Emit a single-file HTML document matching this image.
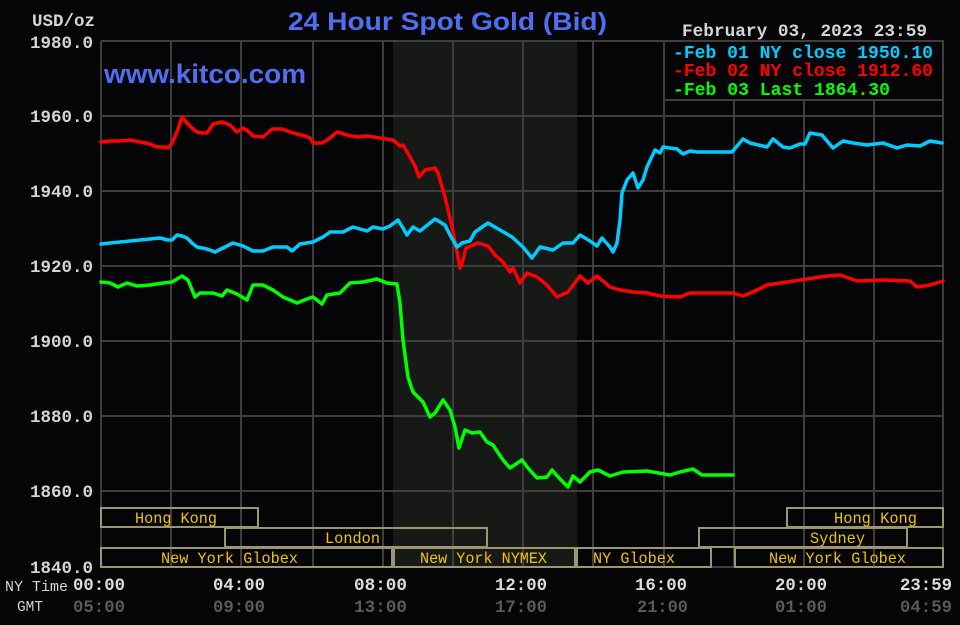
<!DOCTYPE html>
<html><head><meta charset="utf-8"><style>
html,body{margin:0;padding:0;background:#050508;}
svg{display:block;}
.m{font-family:"Liberation Mono",monospace;font-weight:bold;}
.r{font-family:"Liberation Mono",monospace;}
.s{font-family:"Liberation Sans",sans-serif;font-weight:bold;}
</style></head><body>
<svg width="960" height="625" viewBox="0 0 960 625" xmlns="http://www.w3.org/2000/svg">
<rect x="0" y="0" width="960" height="625" fill="#050508"/>
<rect x="393" y="41" width="184" height="526" fill="#171917"/>
<g stroke="#3e3e3e" stroke-width="2" fill="none">
<line x1="101" y1="41" x2="943" y2="41"/>
<line x1="101" y1="116" x2="943" y2="116"/>
<line x1="101" y1="191" x2="943" y2="191"/>
<line x1="101" y1="266" x2="943" y2="266"/>
<line x1="101" y1="341" x2="943" y2="341"/>
<line x1="101" y1="416" x2="943" y2="416"/>
<line x1="101" y1="491" x2="943" y2="491"/>
<line x1="101" y1="567" x2="943" y2="567"/>
<line x1="101" y1="41" x2="101" y2="567"/>
<line x1="171" y1="41" x2="171" y2="567"/>
<line x1="241" y1="41" x2="241" y2="567"/>
<line x1="313" y1="41" x2="313" y2="567"/>
<line x1="383" y1="41" x2="383" y2="567"/>
<line x1="453" y1="41" x2="453" y2="567"/>
<line x1="523" y1="41" x2="523" y2="567"/>
<line x1="593" y1="41" x2="593" y2="567"/>
<line x1="664" y1="41" x2="664" y2="567"/>
<line x1="734" y1="41" x2="734" y2="567"/>
<line x1="804" y1="41" x2="804" y2="567"/>
<line x1="874" y1="41" x2="874" y2="567"/>
<line x1="943" y1="41" x2="943" y2="567"/>
</g>
<g stroke="#9c9670" stroke-width="2" fill="none">
<rect x="101" y="508" width="157" height="19"/>
<rect x="787" y="508" width="156" height="19"/>
<rect x="225" y="528" width="262" height="19"/>
<rect x="699" y="528" width="208" height="19"/>
<rect x="101" y="548" width="291" height="19"/>
<rect x="394" y="548" width="181" height="19"/>
<rect x="577" y="548" width="134" height="19"/>
<rect x="735" y="548" width="208" height="19"/>
</g>
<g class="r" fill="#f0c400" font-size="16">
<text x="135" y="523" textLength="82" lengthAdjust="spacingAndGlyphs">Hong Kong</text>
<text x="834" y="523" textLength="83" lengthAdjust="spacingAndGlyphs">Hong Kong</text>
<text x="325" y="543" textLength="55" lengthAdjust="spacingAndGlyphs">London</text>
<text x="810" y="543" textLength="55" lengthAdjust="spacingAndGlyphs">Sydney</text>
<text x="161" y="563" textLength="137" lengthAdjust="spacingAndGlyphs">New York Globex</text>
<text x="420" y="563" textLength="127" lengthAdjust="spacingAndGlyphs">New York NYMEX</text>
<text x="593" y="563" textLength="82" lengthAdjust="spacingAndGlyphs">NY Globex</text>
<text x="769" y="563" textLength="137" lengthAdjust="spacingAndGlyphs">New York Globex</text>
</g>
<g fill="none" stroke-width="3.5" stroke-linejoin="round" stroke-linecap="round">
<polyline stroke="#ff0000" points="101,142 110,141 120,141 130,140 140,142 150,144 157,147 165,147 168,148 172,143 177,132 182,117 187,123 192,128 197,132 202,133 207,133 213,124 222,122 230,125 237,132 243,128 248,131 253,136 263,137 272,129 282,129 293,133 305,136 310,138 313,143 322,143 330,138 337,132 347,135 357,137 367,136 380,138 393,140 400,146 403,145 410,157 415,166 419,177 425,170 435,168 438,173 445,197 452,227 457,252 460,268 463,260 466,248 478,243 488,246 495,255 503,262 510,272 513,268 520,283 527,273 537,277 547,285 557,297 568,292 580,276 588,283 597,276 610,287 620,290 633,292 647,293 660,296 680,297 690,293 733,293 743,296 755,291 767,285 787,282 807,279 827,276 840,275 857,281 883,280 910,281 917,287 930,285 943,281"/>
<polyline stroke="#00ccff" points="101,244 110,243 120,242 130,241 140,240 150,239 160,238 168,240 172,240 177,235 182,236 187,238 192,243 197,247 207,249 215,252 223,248 233,243 243,246 253,251 263,251 273,247 287,247 292,251 300,244 313,242 323,237 330,232 343,232 353,227 367,231 373,227 383,229 390,226 398,220 403,228 407,235 413,227 420,231 435,219 445,225 450,235 457,247 462,243 470,241 475,232 488,223 500,230 512,237 523,247 532,258 540,247 553,250 563,243 573,243 580,235 590,241 597,246 602,238 610,247 613,252 617,243 620,220 622,193 627,180 633,173 638,188 643,180 647,167 655,150 660,153 663,147 677,149 683,154 690,151 697,152 732,152 743,139 750,143 767,147 773,139 783,147 790,148 800,144 805,144 810,133 822,135 833,148 843,141 853,143 867,145 883,143 897,148 907,145 920,146 930,141 942,143"/>
<polyline stroke="#00ff00" points="101,282 110,283 118,287 127,283 137,286 150,285 163,283 172,282 182,276 188,280 195,297 200,293 213,293 222,296 227,290 237,294 247,300 253,285 263,285 273,290 283,297 297,303 307,299 313,297 322,304 327,295 340,293 350,283 363,282 377,279 387,283 397,284 400,303 403,340 408,377 413,392 423,402 430,417 435,413 443,400 450,410 455,427 459,448 465,430 472,433 480,432 487,442 493,445 503,460 510,468 522,460 528,468 537,478 547,477 552,470 560,479 568,487 573,476 580,482 590,472 598,470 610,476 623,472 647,471 670,475 680,472 693,469 702,475 733,475"/>
</g>
<rect x="664" y="41" width="279" height="59" fill="#050508" stroke="#3e3e3e" stroke-width="2"/>
<g class="m" font-size="18">
<text x="673" y="58" fill="#00ccff" textLength="260" lengthAdjust="spacingAndGlyphs">-Feb 01 NY close 1950.10</text>
<text x="673" y="76" fill="#ff0000" textLength="260" lengthAdjust="spacingAndGlyphs">-Feb 02 NY close 1912.60</text>
<text x="673" y="95" fill="#00ff00" textLength="217" lengthAdjust="spacingAndGlyphs">-Feb 03 Last 1864.30</text>
</g>
<text class="s" x="288" y="30" font-size="25" fill="#4f6ff0" textLength="319" lengthAdjust="spacingAndGlyphs">24 Hour Spot Gold (Bid)</text>
<text class="s" x="104" y="83" font-size="27" fill="#4f6ff0" textLength="202" lengthAdjust="spacingAndGlyphs">www.kitco.com</text>
<text class="m" x="682" y="36" font-size="17.5" fill="#d4d4d4" textLength="245" lengthAdjust="spacingAndGlyphs">February 03, 2023 23:59</text>
<g class="m" font-size="17.5" fill="#d4d4d4">
<text x="32" y="26" textLength="63" lengthAdjust="spacingAndGlyphs">USD/oz</text>
<text x="30" y="48" textLength="63" lengthAdjust="spacingAndGlyphs">1980.0</text>
<text x="30" y="122" textLength="63" lengthAdjust="spacingAndGlyphs">1960.0</text>
<text x="30" y="197" textLength="63" lengthAdjust="spacingAndGlyphs">1940.0</text>
<text x="30" y="272" textLength="63" lengthAdjust="spacingAndGlyphs">1920.0</text>
<text x="30" y="347" textLength="63" lengthAdjust="spacingAndGlyphs">1900.0</text>
<text x="30" y="422" textLength="63" lengthAdjust="spacingAndGlyphs">1880.0</text>
<text x="30" y="497" textLength="63" lengthAdjust="spacingAndGlyphs">1860.0</text>
<text x="30" y="573" textLength="63" lengthAdjust="spacingAndGlyphs">1840.0</text>
</g>
<g class="r" font-size="15" fill="#d4d4d4">
<text x="5" y="591" textLength="63" lengthAdjust="spacingAndGlyphs">NY Time</text>
<text x="17" y="611" textLength="26" lengthAdjust="spacingAndGlyphs">GMT</text>
</g>
<g class="m" font-size="17.5" fill="#dcdcdc">
<text x="73" y="590" textLength="52" lengthAdjust="spacingAndGlyphs">00:00</text>
<text x="213" y="590" textLength="52" lengthAdjust="spacingAndGlyphs">04:00</text>
<text x="354" y="590" textLength="53" lengthAdjust="spacingAndGlyphs">08:00</text>
<text x="495" y="590" textLength="52" lengthAdjust="spacingAndGlyphs">12:00</text>
<text x="635" y="590" textLength="52" lengthAdjust="spacingAndGlyphs">16:00</text>
<text x="775" y="590" textLength="52" lengthAdjust="spacingAndGlyphs">20:00</text>
<text x="900" y="590" textLength="52" lengthAdjust="spacingAndGlyphs">23:59</text>
</g>
<g class="m" font-size="17.5" fill="#5a5a5a">
<text x="73" y="612" textLength="52" lengthAdjust="spacingAndGlyphs">05:00</text>
<text x="213" y="612" textLength="52" lengthAdjust="spacingAndGlyphs">09:00</text>
<text x="354" y="612" textLength="53" lengthAdjust="spacingAndGlyphs">13:00</text>
<text x="495" y="612" textLength="52" lengthAdjust="spacingAndGlyphs">17:00</text>
<text x="637" y="612" textLength="51" lengthAdjust="spacingAndGlyphs">21:00</text>
<text x="775" y="612" textLength="52" lengthAdjust="spacingAndGlyphs">01:00</text>
<text x="900" y="612" textLength="52" lengthAdjust="spacingAndGlyphs">04:59</text>
</g>
</svg>
</body></html>
